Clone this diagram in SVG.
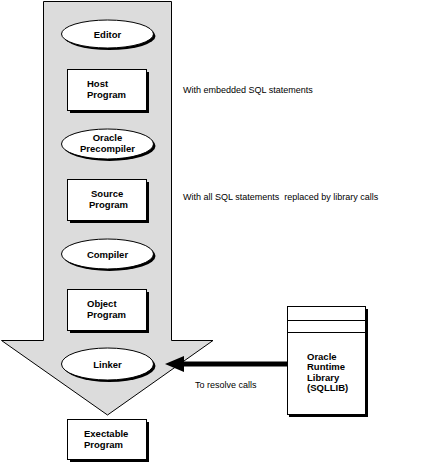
<svg xmlns="http://www.w3.org/2000/svg" width="447" height="464" viewBox="0 0 447 464">
<style>
.bg{fill:#ffffff}
.flow{fill:#dcdcdc;stroke:#000;stroke-width:1}
.shadow{fill:#000}
.box{fill:#fff;stroke:#000;stroke-width:1}
.lbl{font-family:"Liberation Sans",Arial,sans-serif;font-weight:bold;font-size:9.5px;fill:#000}
.note{font-family:"Liberation Sans",Arial,sans-serif;font-size:9px;fill:#000}
</style>
<rect class="bg" x="0" y="0" width="447" height="464"/>
<g id="flow-arrow">
<polygon class="flow" points="43.5,1.5 171.5,1.5 171.5,340.5 213,340.5 107.5,415 1.5,340.5 43.5,340.5"/>
</g>
<g id="editor">
<ellipse class="shadow" cx="109.5" cy="36" rx="46" ry="14"/>
<ellipse class="box" cx="107.5" cy="34" rx="46" ry="14"/>
<text class="lbl" x="107.5" y="38" text-anchor="middle">Editor</text>
</g>
<g id="host-program">
<rect class="shadow" x="70" y="72" width="79" height="41"/>
<rect class="box" x="67.5" y="69.5" width="79" height="41"/>
<text class="lbl" x="87" y="87">Host</text>
<text class="lbl" x="87" y="98">Program</text>
</g>
<g id="precompiler">
<ellipse class="shadow" cx="109.5" cy="146" rx="46" ry="15"/>
<ellipse class="box" cx="107.5" cy="144" rx="46" ry="15"/>
<text class="lbl" x="107.5" y="141" text-anchor="middle">Oracle</text>
<text class="lbl" x="107.5" y="152" text-anchor="middle">Precompiler</text>
</g>
<g id="source-program">
<rect class="shadow" x="70" y="182" width="79" height="41"/>
<rect class="box" x="67.5" y="179.5" width="79" height="41"/>
<text class="lbl" x="91" y="197">Source</text>
<text class="lbl" x="89" y="208">Program</text>
</g>
<g id="compiler">
<ellipse class="shadow" cx="109.5" cy="256" rx="46" ry="15"/>
<ellipse class="box" cx="107.5" cy="254" rx="46" ry="15"/>
<text class="lbl" x="107.5" y="258" text-anchor="middle">Compiler</text>
</g>
<g id="object-program">
<rect class="shadow" x="70" y="292" width="79" height="41"/>
<rect class="box" x="67.5" y="289.5" width="79" height="41"/>
<text class="lbl" x="87" y="307">Object</text>
<text class="lbl" x="87" y="318">Program</text>
</g>
<g id="linker">
<ellipse class="shadow" cx="109.5" cy="366" rx="46" ry="16"/>
<ellipse class="box" cx="107.5" cy="364" rx="46" ry="16"/>
<text class="lbl" x="107.5" y="368" text-anchor="middle">Linker</text>
</g>
<g id="executable-program">
<rect class="shadow" x="70" y="422" width="79" height="40"/>
<rect class="box" x="67.5" y="419.5" width="79" height="40"/>
<text class="lbl" x="84" y="437">Exectable</text>
<text class="lbl" x="84" y="448">Program</text>
</g>
<g id="runtime-library">
<rect class="shadow" x="289" y="309" width="79" height="108"/>
<rect class="box" x="287.5" y="306.5" width="78" height="108"/>
<line x1="287.5" y1="320.5" x2="365.5" y2="320.5" stroke="#000" stroke-width="1"/>
<line x1="287.5" y1="332.5" x2="365.5" y2="332.5" stroke="#000" stroke-width="1"/>
<text class="lbl" x="307" y="359.5">Oracle</text>
<text class="lbl" x="307" y="370">Runtime</text>
<text class="lbl" x="307" y="380.5">Library</text>
<text class="lbl" x="307" y="391">(SQLLIB)</text>
</g>
<g id="connectors">
<line x1="287" y1="364" x2="182" y2="364" stroke="#000" stroke-width="5"/>
<polygon points="165,364 184,356 184,372" fill="#000"/>
</g>
<g id="notes">
<text class="note" x="183" y="93">With embedded SQL statements</text>
<text class="note" x="183" y="200" xml:space="preserve">With all SQL statements  replaced by library calls</text>
<text class="note" x="195" y="388">To resolve calls</text>
</g>
</svg>
